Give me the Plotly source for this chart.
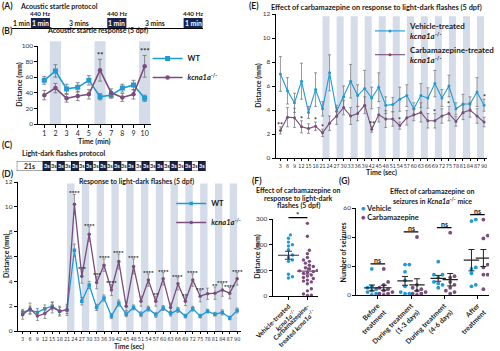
import numpy as np
import plotly.graph_objects as go

W, H = 500, 351
def fx(p): return p / W
def fy(p): return 1 - p / H

BLUE = '#1e9bd7'
PURPLE = '#7b4d7c'
BAND = '#d5dce9'
NAVY = '#17244f'
ERRC = '#6e6e6e'
TXT = '#1a1a1a'
FONT = 'Lato, "Open Sans", sans-serif'
NARROW = '"Liberation Sans Narrow", "DejaVu Sans Condensed", Lato, sans-serif'
KO = '<i>kcna1a</i><sup>-/-</sup>'

# ---------------- data ----------------
# (A) acoustic startle protocol (minutes)
a_labels = ['1 min', '1 min', '3 mins', '1 min', '3 mins', '1 min']
a_minutes = [1, 1, 3, 1, 3, 1]
a_tone = [False, True, False, True, False, True]
a_tone_label = '440 Hz'

# (B) acoustic startle response
b_time = [1, 2, 3, 4, 5, 6, 7, 8, 9, 10]
b_wt = [56, 68, 45, 47, 56, 35, 37, 46, 50, 33]
b_wt_err = [5, 8, 6, 6, 6, 4, 4, 5, 6, 4]
b_ko = [37, 46, 33, 36, 38, 69, 40, 34, 38, 74]
b_ko_err = [6, 6, 5, 6, 6, 14, 5, 5, 6, 14]
b_sig_time = [6, 10]
b_sig_text = ['**', '***']

# (C) light-dark flashes protocol (seconds)
c_seconds = [21] + [3] * 23
c_dark = [False] + [i % 2 == 0 for i in range(23)]

# (D) response to light-dark flashes
d_time = list(range(3, 91, 3))
d_wt = [1.5, 1.7, 1.5, 1.8, 2.0, 1.6, 1.7, 6.5, 2.4, 3.7, 1.9, 2.65, 1.2, 2.25, 1.35,
        1.9, 1.35, 1.8, 1.3, 1.85, 1.4, 1.7, 1.2, 1.8, 1.2, 1.6, 1.35, 1.5, 1.05, 1.65]
d_wt_err = [0.25, 0.3, 0.3, 0.3, 0.3, 0.3, 0.3, 0.5, 0.3, 0.3, 0.25, 0.25, 0.2, 0.25, 0.2,
            0.2, 0.2, 0.2, 0.2, 0.2, 0.2, 0.2, 0.15, 0.2, 0.15, 0.15, 0.15, 0.2, 0.15, 0.2]
d_ko = [1.3, 1.8, 1.2, 1.4, 1.9, 1.6, 1.7, 10.2, 4.4, 7.8, 3.9, 5.3, 3.3, 5.6, 2.0,
        5.2, 2.4, 4.1, 2.4, 4.2, 1.9, 3.8, 2.4, 4.1, 2.8, 3.0, 3.05, 3.3, 3.05, 4.2]
d_ko_err = [0.35, 0.45, 0.35, 0.4, 0.45, 0.4, 0.45, 0.8, 0.55, 0.6, 0.5, 0.5, 0.45, 0.6, 0.35,
            0.6, 0.4, 0.5, 0.4, 0.5, 0.35, 0.5, 0.35, 0.5, 0.45, 0.45, 0.5, 0.5, 0.45, 0.5]
d_sig_time = [24, 27, 30, 33, 36, 39, 42, 48, 54, 57, 60, 66, 69, 72, 75, 81, 84, 87, 90]
d_sig_text = ['****', '***', '****', '***', '****', '****', '****', '****', '****', '**',
              '****', '****', '**', '****', '***', '**', '****', '****', '****']

# (E) effect of carbamazepine on light-dark flashes
e_time = list(range(3, 91, 3))
e_veh = [7.0, 5.6, 4.6, 6.4, 3.8, 5.7, 4.1, 7.1, 3.9, 5.1, 6.4, 5.2, 5.8, 5.0, 5.9,
         4.4, 4.45, 4.9, 5.2, 4.1, 5.2, 5.0, 6.2, 5.0, 6.0, 4.1, 4.5, 4.5, 5.5, 4.4]
e_veh_err = [1.45, 1.1, 0.8, 1.5, 0.5, 1.4, 0.6, 1.5, 0.5, 0.9, 1.4, 0.9, 1.5, 0.9, 1.2,
             0.7, 0.6, 1.0, 0.9, 0.5, 1.0, 0.85, 1.1, 0.7, 0.9, 0.5, 0.8, 0.6, 1.2, 0.5]
e_cbz = [2.3, 3.4, 3.35, 2.6, 2.45, 2.65, 2.1, 2.9, 3.5, 4.2, 3.5, 3.7, 4.4, 2.4, 3.6,
         3.25, 3.25, 2.7, 3.35, 3.6, 3.8, 3.1, 3.1, 3.5, 3.7, 3.05, 3.8, 4.0, 3.5, 3.0]
e_cbz_err = [0.3, 0.8, 0.8, 0.5, 0.4, 0.35, 0.3, 0.6, 0.7, 0.6, 0.7, 0.6, 0.7, 0.25, 0.6,
             0.7, 0.6, 0.3, 0.6, 0.5, 0.8, 0.6, 0.6, 0.6, 0.6, 0.4, 0.6, 0.6, 0.6, 0.4]
e_sig_time = [3, 12, 18, 21, 42, 54, 69, 75, 90]
e_sig_text = ['**', '*', '*', '*', '**', '*', '*', '*', '*']
e_sig_on_vehicle = [90]

# (F) total distance, vehicle vs carbamazepine
f_groups = ['Vehicle-treated<br>' + KO, 'Carbamazepine-<br>treated ' + KO]
f_vehicle = [238, 225, 210, 200, 195, 180, 160, 150, 140, 135, 85, 75, 70]
f_carb = [283, 233, 178, 165, 150, 140, 135, 128, 120, 115, 110, 105, 100, 98, 95,
          92, 88, 82, 78, 72, 68, 62, 58, 55, 48, 28, 20, 8, 3, 2]
f_sig = '*'

# (G) seizures in mice
g_cats = ['Before<br>treatment', 'During treatment<br>(1-3 days)',
          'During treatment<br>(4-6 days)', 'After<br>treatment']
g_vehicle = [[18, 6, 5, 4, 3, 2, 1, 0], [21, 21, 16, 10, 6, 2, 1, 1],
             [23, 14, 14, 12, 9, 8, 7, 5], [52, 51, 19, 18, 15, 7, 6]]
g_carb = [[18, 9, 7, 5, 4, 3, 2, 1, 1, 0], [40, 7, 5, 4, 3, 2, 1, 1, 0],
          [43, 13, 12, 9, 7, 5, 3, 2, 1], [52, 41, 39, 21, 19, 14, 14, 4]]
g_sig = ['ns', 'ns', 'ns', 'ns']
g_series = ['Vehicle', 'Carbamazepine']

# ---------------- helpers ----------------
def swarm(vals, center, sx, sy, d):
    vals = np.asarray(vals, float)
    placed, xs = [], np.zeros(len(vals))
    for i in np.argsort(vals):
        ypx = vals[i] * sy
        for k in range(60):
            off = ((k + 1) // 2) * (1 if k % 2 == 1 else -1) * d * 0.55
            if all(np.hypot(off - a, ypx - b) >= d * 0.95 for a, b in placed):
                break
        placed.append((off, ypx))
        xs[i] = center + off / sx
    return xs

def sem(v):
    v = np.asarray(v, float)
    return v.std(ddof=1) / np.sqrt(len(v))

ann = []
def text(x, y, s, size=7, bold=True, xa='center', ya='middle', angle=0, color=TXT,
         xref='paper', yref='paper', fam=FONT, yshift=0):
    ann.append(dict(x=x, y=y, xref=xref, yref=yref, text=s, showarrow=False,
                    xanchor=xa, yanchor=ya, textangle=angle, yshift=yshift, borderpad=0,
                    font=dict(family=fam, size=size, color=color,
                              weight='bold' if bold else 'normal')))

shapes = []
fig = go.Figure()

# ---------------- (A) protocol ----------------
a_start = np.concatenate([[0], np.cumsum(a_minutes)[:-1]])
fig.add_trace(go.Bar(x=a_minutes, base=a_start, y=[0] * len(a_minutes), orientation='h',
                     width=1, marker=dict(color=[NAVY if t else 'rgba(0,0,0,0)' for t in a_tone],
                                          line=dict(width=0)),
                     xaxis='x6', yaxis='y6', showlegend=False, hoverinfo='skip'))
for s, m, lab, t in zip(a_start, a_minutes, a_labels, a_tone):
    text(s + m / 2, 0, lab, size=6.8, color='white' if t else TXT, xref='x6', yref='y6')
    if t:
        text(s + m / 2, 1.0, a_tone_label, size=6.3, xref='x6', yref='y6 domain', ya='bottom')

# ---------------- (C) protocol ----------------
c_width = [min(s / 3, 3.75) for s in c_seconds]  # long block drawn compressed (schematic)
c_start = np.concatenate([[0], np.cumsum(c_width)[:-1]])
fig.add_trace(go.Bar(x=c_width, base=c_start, y=[0] * len(c_width), orientation='h', width=1,
                     marker=dict(color=[NAVY if d else 'white' for d in c_dark],
                                 line=dict(width=0.7, color='black')),
                     xaxis='x7', yaxis='y7', showlegend=False, hoverinfo='skip'))
for s, w, sec, dk in zip(c_start, c_width, c_seconds, c_dark):
    text(s + w / 2, 0, f'{sec}s', size=6.8 if sec > 3 else 5.5, bold=True,
         color='white' if dk else TXT, xref='x7', yref='y7')

# light-off intervals (seconds) for bands in D/E
dark_t = np.concatenate([[0], np.cumsum(c_seconds)[:-1]])
dark_intervals = [(t, t + s) for t, s, dk in zip(dark_t, c_seconds, c_dark) if dk]

# ---------------- (B) ----------------
tone_min = [s + 1 for s, t in zip(a_start, a_tone) if t]
for m in tone_min:
    shapes.append(dict(type='rect', xref='x', yref='y domain', x0=m - 0.5, x1=m + 0.5,
                       y0=0, y1=1.06, fillcolor=BAND, line=dict(width=0), layer='below'))
errB = dict(type='data', color=ERRC, thickness=0.8, width=2)
fig.add_trace(go.Scatter(x=b_time, y=b_wt, mode='lines+markers', name='WT',
                         line=dict(color=BLUE, width=1.6),
                         marker=dict(symbol='square', size=5, color=BLUE),
                         error_y=dict(errB, array=b_wt_err), legend='legend',
                         xaxis='x', yaxis='y'))
fig.add_trace(go.Scatter(x=b_time, y=b_ko, mode='lines+markers', name=KO,
                         line=dict(color=PURPLE, width=1.6),
                         marker=dict(symbol='circle', size=4.5, color=PURPLE),
                         error_y=dict(errB, array=b_ko_err), legend='legend',
                         xaxis='x', yaxis='y'))
for t, s in zip(b_sig_time, b_sig_text):
    i = b_time.index(t)
    text(t, b_ko[i] + b_ko_err[i], s, size=7.5, xref='x', yref='y', ya='bottom', yshift=-2)

# ---------------- (D) ----------------
for a, b in dark_intervals:
    shapes.append(dict(type='rect', xref='x2', yref='y2 domain', x0=a, x1=b, y0=0, y1=0.99,
                       fillcolor=BAND, line=dict(width=0), layer='below'))
errD = dict(type='data', color=ERRC, thickness=0.7, width=1.5)
fig.add_trace(go.Scatter(x=d_time, y=d_wt, mode='lines+markers', name='WT',
                         line=dict(color=BLUE, width=1.3),
                         marker=dict(symbol='square', size=3.5, color=BLUE),
                         error_y=dict(errD, array=d_wt_err), legend='legend2',
                         xaxis='x2', yaxis='y2'))
fig.add_trace(go.Scatter(x=d_time, y=d_ko, mode='lines+markers', name=KO,
                         line=dict(color=PURPLE, width=1.3),
                         marker=dict(symbol='circle', size=3.5, color=PURPLE),
                         error_y=dict(errD, array=d_ko_err), legend='legend2',
                         xaxis='x2', yaxis='y2'))
for t, s in zip(d_sig_time, d_sig_text):
    i = d_time.index(t)
    text(t, d_ko[i] + d_ko_err[i], s, size=6.2, xref='x2', yref='y2', ya='bottom', yshift=-3)

# ---------------- (E) ----------------
for a, b in dark_intervals:
    shapes.append(dict(type='rect', xref='x3', yref='y3 domain', x0=a, x1=b, y0=0, y1=0.985,
                       fillcolor=BAND, line=dict(width=0), layer='below'))
errE = dict(type='data', color=ERRC, thickness=0.7, width=1.5)
fig.add_trace(go.Scatter(x=e_time, y=e_veh, mode='lines+markers',
                         name='Vehicle-treated<br>' + KO,
                         line=dict(color=BLUE, width=1.1),
                         marker=dict(symbol='circle', size=3, color=BLUE),
                         error_y=dict(errE, array=e_veh_err), legend='legend3',
                         xaxis='x3', yaxis='y3'))
fig.add_trace(go.Scatter(x=e_time, y=e_cbz, mode='lines+markers',
                         name='Carbamazepine-treated<br>' + KO,
                         line=dict(color=PURPLE, width=1.1),
                         marker=dict(symbol='circle', size=3, color=PURPLE),
                         error_y=dict(errE, array=e_cbz_err), legend='legend3',
                         xaxis='x3', yaxis='y3'))
for t, s in zip(e_sig_time, e_sig_text):
    i = e_time.index(t)
    top = e_veh[i] + e_veh_err[i] if t in e_sig_on_vehicle else e_cbz[i] + e_cbz_err[i]
    text(t, top, s, size=7, xref='x3', yref='y3', ya='bottom', yshift=-3)

# ---------------- (F) ----------------
F_SX, F_SY = 45 / 2.37, 77 / 300
for gi, (vals, col, mcol) in enumerate([(f_vehicle, BLUE, '#25324f'), (f_carb, PURPLE, PURPLE)]):
    xs = swarm(vals, gi, F_SX, F_SY, 3.6)
    fig.add_trace(go.Scatter(x=xs, y=vals, mode='markers', showlegend=False,
                             marker=dict(size=3.4, color=col), xaxis='x4', yaxis='y4'))
    fig.add_trace(go.Scatter(x=[gi], y=[np.mean(vals)], mode='markers', showlegend=False,
                             marker=dict(symbol='line-ew', size=15, line=dict(width=1.2, color=mcol)),
                             error_y=dict(type='data', array=[sem(vals)], color=mcol,
                                          thickness=1, width=3.5),
                             xaxis='x4', yaxis='y4'))
f_top = (max(max(f_vehicle), max(f_carb)) + 22) / 300
shapes.append(dict(type='line', xref='x4', yref='y4 domain', x0=0, x1=1, y0=f_top, y1=f_top,
                   line=dict(color='black', width=1.2)))
text(0.5, f_top, f_sig, size=8, xref='x4', yref='y4 domain', ya='bottom', yshift=-3)

# ---------------- (G) ----------------
G_SX, G_SY = 135 / 4.0, 87 / 60
for name, groups, col, off in [(g_series[0], g_vehicle, BLUE, -0.18),
                               (g_series[1], g_carb, PURPLE, 0.18)]:
    xs_all, ys_all = [], []
    for ci, vals in enumerate(groups):
        xs_all += list(swarm(vals, ci + off, G_SX, G_SY, 4.0))
        ys_all += list(vals)
    fig.add_trace(go.Scatter(x=xs_all, y=ys_all, mode='markers', name=name, showlegend=False,
                             marker=dict(size=3.8, color=col), xaxis='x5', yaxis='y5'))
    fig.add_trace(go.Scatter(x=[ci + off for ci in range(len(groups))],
                             y=[np.mean(v) for v in groups], mode='markers', showlegend=False,
                             marker=dict(symbol='line-ew', size=11, line=dict(width=1.2, color='#222')),
                             error_y=dict(type='data', array=[sem(v) for v in groups],
                                          color='#222', thickness=1, width=3),
                             xaxis='x5', yaxis='y5'))
for ci, s in enumerate(g_sig):
    top = max(max(g_vehicle[ci]), max(g_carb[ci])) + 3.5
    shapes.append(dict(type='line', xref='x5', yref='y5', x0=ci - 0.22, x1=ci + 0.22,
                       y0=top, y1=top, line=dict(color='black', width=1.2)))
    text(ci, top, s, size=7, xref='x5', yref='y5', ya='bottom', yshift=-1)
# G key (legend)
for k, (name, col) in enumerate(zip(g_series, [BLUE, PURPLE])):
    text(fx(366), fy(208 + 9 * k), f"<span style='color:{col}'>●</span> {name}", size=7.5,
         xa='left')

# ---------------- text: panel labels, titles, axis titles ----------------
for lab, x, y in [('(A)', 1, 6), ('(B)', 1, 31), ('(C)', 1, 145), ('(D)', 1, 174),
                  ('(E)', 252, 6), ('(F)', 255, 181), ('(G)', 344, 181)]:
    text(fx(x), fy(y), lab, size=8.5, xa='left')
text(fx(19), fy(6), 'Acoustic startle protocol', size=7, xa='left')
text(fx(99), fy(31), 'Acoustic startle response (5 dpf)', size=7)
text(fx(21), fy(153), 'Light-dark flashes protocol', size=7, xa='left')
text(fx(139), fy(181), 'Response to light-dark flashes (5 dpf)', size=7)
text(fx(383), fy(8), 'Effect of carbamazepine on response to light-dark flashes (5 dpf)', size=7.4)
for k, line in enumerate(['Effect of carbamazepine on', 'response to light-dark', 'flashes (5 dpf)']):
    text(fx(303), fy(190 + 8 * k), line, size=7)
for k, line in enumerate(['Effect of carbamazepine on',
                          'seizures in <i>Kcna1a</i><sup>-/-</sup> mice']):
    text(fx(440), fy(191 + 9 * k), line, size=7)

text(fx(19), fy(85), 'Distance (mm)', size=7, angle=-90)
text(fx(96), fy(141), 'Time (min)', size=7)
text(fx(6), fy(256), 'Distance (mm)', size=7, angle=-90)
text(fx(131), fy(346.5), 'Time (sec)', size=6.8)
text(fx(263), fy(86), 'Distance (mm)', size=7, angle=-90)
text(fx(388), fy(172), 'Time (sec)', size=7)
text(fx(261), fy(257), 'Distance (mm)', size=7, angle=-90)
text(fx(349), fy(252), 'Number of seizures', size=7, angle=-90)

# ---------------- axes ----------------
def ax(domain, rng, anchor, **kw):
    d = dict(domain=domain, range=rng, anchor=anchor, showgrid=False, zeroline=False,
             showline=True, linecolor='black', linewidth=1, ticks='outside', ticklen=3,
             tickwidth=1, tickcolor='black', automargin=False, fixedrange=True,
             tickfont=dict(family=FONT, size=6.5, color='#333'))
    d.update(kw)
    return d

tick_small = dict(family=NARROW, size=5.5, color='#333')
tick_bold = dict(family=FONT, size=6.6, color=TXT, weight='bold')

fig.update_layout(
    width=W, height=H, margin=dict(l=0, r=0, t=0, b=0),
    paper_bgcolor='white', plot_bgcolor='rgba(0,0,0,0)', hovermode=False,
    xaxis=ax([fx(39), fx(153)], [0.47, 10.53], 'y', tickvals=b_time, tickangle=0,
             tickfont=dict(family=FONT, size=7, color=TXT)),
    yaxis=ax([fy(124), fy(46)], [0, 100], 'x', tickvals=[0, 20, 40, 60, 80, 100]),
    xaxis2=ax([fx(18), fx(245)], [1.0, 91.6], 'y2', tickvals=d_time, tickangle=0,
              tickfont=tick_small, ticklen=2),
    yaxis2=ax([fy(331), fy(182)], [0, 12], 'x2', tickvals=list(range(0, 13, 2))),
    xaxis3=ax([fx(280), fx(495)], [0.9, 91.3], 'y3', tickvals=e_time, tickangle=0,
              tickfont=tick_small, ticklen=2),
    yaxis3=ax([fy(158), fy(14)], [0, 12], 'x3', tickvals=list(range(0, 13, 2))),
    xaxis4=ax([fx(277), fx(323)], [-0.84, 1.55], 'y4', tickvals=[0, 1], ticktext=f_groups,
              tickangle=-45, tickfont=tick_bold),
    yaxis4=ax([fy(296), fy(219)], [0, 300], 'x4', tickvals=[0, 100, 200, 300]),
    xaxis5=ax([fx(362), fx(497)], [-0.65, 3.35], 'y5', tickvals=[0, 1, 2, 3], ticktext=g_cats,
              tickangle=-45, tickfont=dict(tick_bold, size=7)),
    yaxis5=ax([fy(295), fy(208)], [0, 60], 'x5', tickvals=[0, 20, 40, 60]),
    xaxis6=dict(domain=[fx(12), fx(206)], range=[0, sum(a_minutes)], anchor='y6',
                showline=True, linecolor='black', linewidth=1, showgrid=False,
                zeroline=False, showticklabels=False, ticks='', fixedrange=True),
    yaxis6=dict(domain=[fy(28), fy(18)], range=[-0.5, 0.5], anchor='x6', visible=False,
                fixedrange=True),
    xaxis7=dict(domain=[fx(17), fx(209)], range=[0, sum(c_width)], anchor='y7',
                visible=False, fixedrange=True),
    yaxis7=dict(domain=[fy(171), fy(161)], range=[-0.5, 0.5], anchor='x7', visible=False,
                fixedrange=True),
    shapes=shapes, annotations=ann,
)

leg = dict(xanchor='left', yanchor='top', bgcolor='rgba(0,0,0,0)', tracegroupgap=0,
           font=dict(family=FONT, size=7.5, color=TXT, weight='bold'), itemclick=False,
           itemdoubleclick=False)
fig.update_layout(
    legend=dict(leg, x=fx(150), y=fy(44)),
    legend2=dict(leg, x=fx(174), y=fy(189)),
    legend3=dict(leg, x=fx(376), y=fy(14), font=dict(family=FONT, size=8, color=TXT, weight='bold')),
    showlegend=True,
)

fig.write_html('out.html', config={'displayModeBar': False, 'staticPlot': True})
